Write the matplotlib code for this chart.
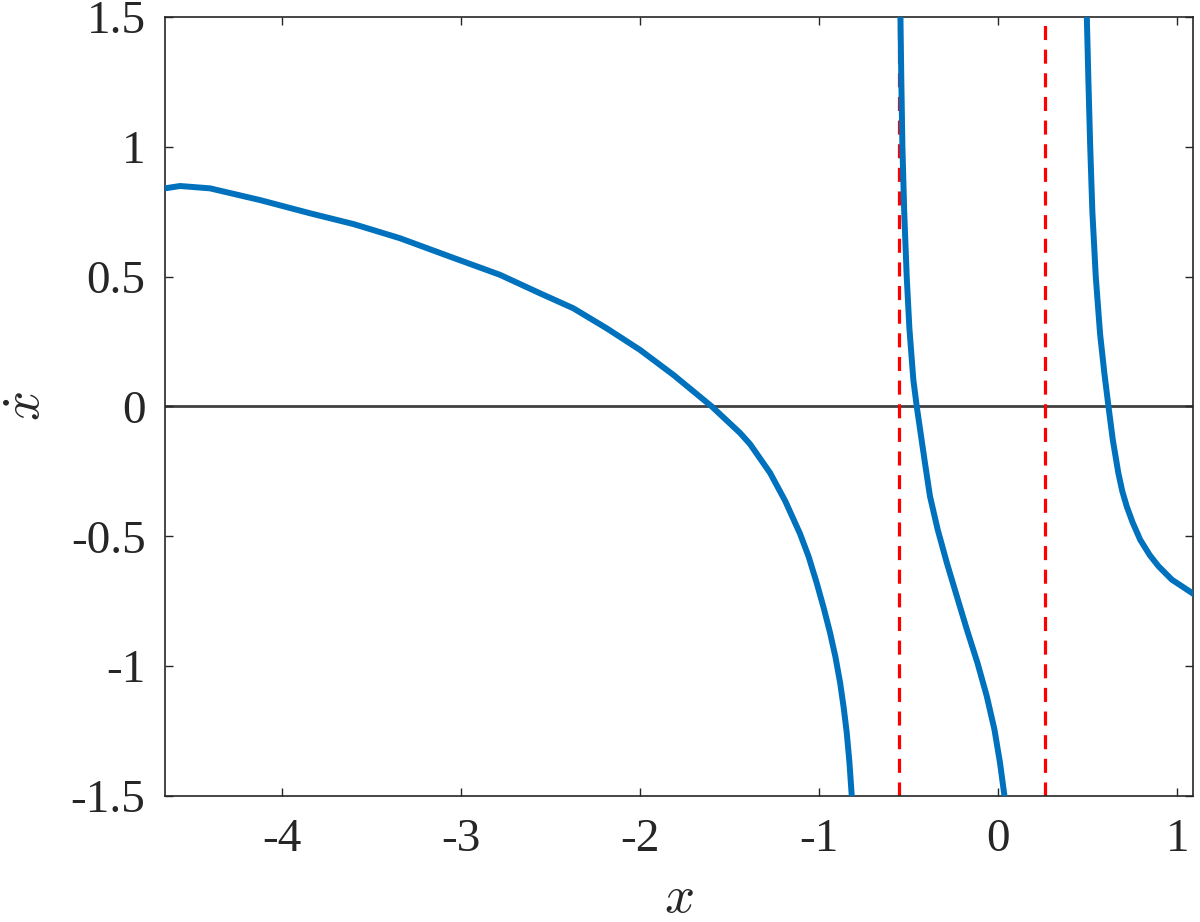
import matplotlib
matplotlib.use("Agg")
import matplotlib.pyplot as plt

# ---- data ----
left_x = [-4.655, -4.571, -4.404, -4.125, -3.845, -3.600, -3.343, -3.063, -2.784,
          -2.561, -2.374, -2.188, -2.002, -1.816, -1.601, -1.443, -1.387, -1.275,
          -1.190, -1.108, -1.060, -1.015, -0.976, -0.940, -0.910, -0.884, -0.864,
          -0.847, -0.832, -0.819]
left_y = [0.840, 0.849, 0.840, 0.795, 0.744, 0.702, 0.648, 0.577, 0.507,
          0.436, 0.378, 0.301, 0.218, 0.122, 0.000, -0.102, -0.145, -0.256,
          -0.365, -0.490, -0.578, -0.679, -0.775, -0.872, -0.965, -1.064, -1.160,
          -1.256, -1.370, -1.500]

mid_x = [-0.547, -0.542, -0.536, -0.526, -0.512, -0.497, -0.475, -0.456, -0.437,
         -0.410, -0.382, -0.339, -0.288, -0.232, -0.176, -0.117, -0.065, -0.022,
         0.009, 0.034]
mid_y = [1.500, 1.250, 1.000, 0.750, 0.500, 0.300, 0.103, 0.000, -0.090,
         -0.218, -0.346, -0.474, -0.602, -0.731, -0.859, -0.987, -1.115, -1.244,
         -1.372, -1.500]

right_x = [0.494, 0.503, 0.513, 0.525, 0.544, 0.568, 0.592, 0.615, 0.639, 0.670,
           0.692, 0.717, 0.750, 0.792, 0.845, 0.894, 0.969, 1.090]
right_y = [1.500, 1.250, 1.000, 0.750, 0.500, 0.280, 0.128, 0.000, -0.128, -0.256,
           -0.326, -0.385, -0.447, -0.513, -0.572, -0.615, -0.667, -0.722]

vlines_x = [-0.553, 0.263]

xticks = [-4, -3, -2, -1, 0, 1]
xtick_labels = ["-4", "-3", "-2", "-1", "0", "1"]
yticks = [-1.5, -1, -0.5, 0, 0.5, 1, 1.5]
ytick_labels = ["-1.5", "-1", "-0.5", "0", "0.5", "1", "1.5"]

xlim = (-4.655, 1.086)
ylim = (-1.5, 1.5)

# ---- style ----
plt.rcParams["font.family"] = ["Liberation Serif", "DejaVu Serif"]
plt.rcParams["mathtext.fontset"] = "cm"

blue = "#0072BD"
axcol = "#262626"

fig = plt.figure(figsize=(12, 9.22), dpi=100)
ax = fig.add_axes([0.1375, 0.1367, 0.994 - 0.1375, 0.9816 - 0.1367])

ax.axhline(0, color="#404040", lw=2.0, zorder=1)
for xv in vlines_x:
    ax.plot([xv, xv], [ylim[0], ylim[1]], color="#FF0000", lw=2.3,
            dashes=(4.4, 3.0), zorder=2)

for xs, ys in ((left_x, left_y), (mid_x, mid_y), (right_x, right_y)):
    ax.plot(xs, ys, color=blue, lw=4.3, solid_capstyle="round",
            solid_joinstyle="round", zorder=3)

ax.set_xlim(*xlim)
ax.set_ylim(*ylim)
ax.set_xticks(xticks)
ax.set_xticklabels(xtick_labels)
ax.set_yticks(yticks)
ax.set_yticklabels(ytick_labels)

ax.tick_params(direction="in", length=6, width=1.0, colors=axcol,
               labelsize=34, top=True, right=True, pad=14)
ax.tick_params(axis="x", pad=16)
for s in ax.spines.values():
    s.set_color(axcol)
    s.set_linewidth(1.2)

ax.set_xlabel(r"$x$", fontsize=38, color=axcol, labelpad=10)
ax.set_ylabel(r"$\dot{x}$", fontsize=38, color=axcol, labelpad=14)

fig.savefig("out.png", dpi=100)
